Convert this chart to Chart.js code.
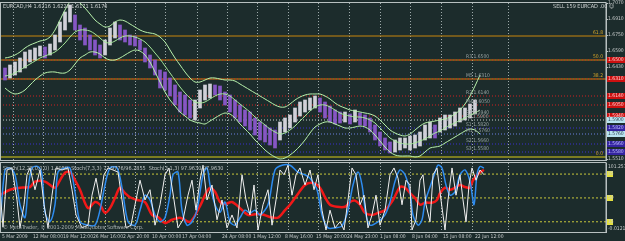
<!DOCTYPE html>
<html>
<head>
<meta charset="utf-8">
<script src="https://cdn.jsdelivr.net/npm/chart.js@4/dist/chart.umd.min.js"></script>
<style>
html, body { margin: 0; padding: 0; background: #1c2c2c; }
#wrap { position: relative; width: 625px; height: 241px; overflow: hidden; background: #1c2c2c; }
canvas { position: absolute; left: 0; }
#main { top: 0; width: 625px; height: 162px; }
#stoch { top: 162px; width: 625px; height: 79px; }
.txt { position: absolute; font: 5.5px "Liberation Sans Narrow", "DejaVu Sans Condensed", "Liberation Sans", sans-serif; color: #d0d4d4; white-space: nowrap; line-height: 6px; }
</style>
</head>
<body>
<div id="wrap">
  <canvas id="main" width="625" height="162"></canvas>
  <canvas id="stoch" width="625" height="79"></canvas>
  <div class="txt" style="left:3px;top:3px">EURCAD,H4 1.6216 1.6228 1.6171 1.6176</div>
  <div class="txt" style="left:553px;top:3px">SELL 159 EURCAD .00 &#9786;</div>
  <div class="txt" style="left:3px;top:165px;color:#c0c6c6">Stoch(12,25,0,0,0) 1.8059 &nbsp;Stoch(7,3,3) 77.9776/96.2855 &nbsp;Stoch(3,1,3) 97.9630/97.9630</div>
  <div class="txt" style="left:3px;top:224px;color:#a8b0b0">&copy; MetaTrader, &copy; 2001-2009 MetaQuotes Software Corp.</div>
</div>
<script>
// --- DATA ---

// price bars, one every 5 bars (bar index ~ pixel)
const highs = [1.642,1.645,1.648,1.652,1.658,1.660,1.662,1.664,1.663,1.666,
  1.675,1.688,1.698,1.705,1.695,1.685,1.682,1.675,1.670,1.665,
  1.670,1.682,1.688,1.685,1.680,1.675,1.674,1.670,1.662,1.655,
  1.650,1.640,1.638,1.632,1.625,1.618,1.615,1.610,1.610,1.620,
  1.625,1.626,1.625,1.624,1.618,1.615,1.610,1.605,1.600,1.598,
  1.592,1.588,1.585,1.582,1.580,1.588,1.592,1.595,1.602,1.608,
  1.610,1.612,1.614,1.612,1.608,1.604,1.600,1.598,1.598,1.596,
  1.600,1.597,1.595,1.592,1.585,1.578,1.572,1.568,1.570,1.572,
  1.572,1.574,1.575,1.578,1.585,1.588,1.585,1.592,1.595,1.595,
  1.598,1.602,1.602,1.606,1.610];
const lows = [1.630,1.632,1.635,1.638,1.642,1.648,1.650,1.654,1.652,1.655,
  1.660,1.668,1.680,1.688,1.680,1.670,1.665,1.660,1.655,1.652,
  1.655,1.665,1.672,1.670,1.668,1.665,1.664,1.660,1.648,1.642,
  1.635,1.622,1.620,1.614,1.605,1.598,1.595,1.592,1.590,1.602,
  1.610,1.612,1.615,1.610,1.605,1.598,1.592,1.588,1.584,1.580,
  1.575,1.570,1.568,1.565,1.562,1.570,1.578,1.582,1.588,1.594,
  1.598,1.600,1.602,1.598,1.592,1.588,1.586,1.587,1.588,1.586,
  1.588,1.585,1.584,1.578,1.570,1.564,1.560,1.557,1.558,1.560,
  1.562,1.560,1.562,1.564,1.570,1.572,1.572,1.578,1.580,1.582,
  1.584,1.588,1.590,1.592,1.596];

// bands, one every 5 bars
const upperBand = [1.652,1.653,1.655,1.658,1.662,1.665,1.667,1.669,1.670,1.673,
  1.680,1.690,1.700,1.708,1.710,1.707,1.702,1.696,1.690,1.686,
  1.683,1.684,1.688,1.690,1.689,1.686,1.683,1.680,1.678,1.677,
  1.676,1.673,1.668,1.660,1.652,1.645,1.638,1.632,1.628,1.628,
  1.630,1.632,1.632,1.631,1.630,1.630,1.629,1.626,1.623,1.620,
  1.617,1.614,1.611,1.608,1.605,1.603,1.603,1.606,1.610,1.613,
  1.615,1.616,1.616,1.616,1.614,1.611,1.607,1.604,1.602,1.600,
  1.599,1.598,1.597,1.596,1.594,1.590,1.585,1.580,1.577,1.575,
  1.574,1.576,1.580,1.584,1.587,1.588,1.589,1.590,1.591,1.593,
  1.596,1.600,1.606,1.614,1.624,1.635];
const midBand = [1.634,1.635,1.637,1.640,1.643,1.646,1.649,1.652,1.654,1.656,
  1.658,1.662,1.667,1.673,1.678,1.680,1.680,1.679,1.676,1.672,
  1.668,1.667,1.669,1.672,1.674,1.674,1.673,1.671,1.668,1.663,
  1.657,1.651,1.644,1.637,1.630,1.623,1.617,1.612,1.608,1.607,
  1.608,1.611,1.614,1.616,1.616,1.614,1.610,1.606,1.602,1.598,
  1.593,1.589,1.585,1.581,1.578,1.576,1.577,1.580,1.584,1.589,
  1.594,1.599,1.603,1.605,1.605,1.603,1.600,1.597,1.595,1.594,
  1.593,1.593,1.592,1.590,1.587,1.582,1.577,1.572,1.569,1.567,
  1.566,1.566,1.567,1.569,1.571,1.574,1.577,1.579,1.582,1.585,
  1.587,1.590,1.592,1.595,1.597,1.600];
const lowerBand = [1.622,1.618,1.616,1.617,1.620,1.625,1.630,1.634,1.637,1.638,
  1.638,1.637,1.637,1.640,1.646,1.652,1.655,1.658,1.658,1.656,
  1.652,1.650,1.650,1.652,1.655,1.658,1.660,1.659,1.655,1.648,
  1.638,1.628,1.618,1.610,1.604,1.598,1.594,1.590,1.588,1.587,
  1.586,1.589,1.592,1.595,1.597,1.596,1.592,1.586,1.581,1.576,
  1.570,1.565,1.560,1.556,1.553,1.551,1.552,1.555,1.559,1.564,
  1.570,1.577,1.583,1.586,1.588,1.588,1.586,1.584,1.582,1.582,
  1.583,1.584,1.583,1.580,1.575,1.569,1.563,1.558,1.555,1.554,
  1.554,1.554,1.553,1.554,1.558,1.562,1.563,1.564,1.567,1.570,
  1.573,1.576,1.579,1.581,1.580,1.576];

// fibonacci and pivot levels
const fibPrices = [1.674, 1.650, 1.631, 1.553];
const fibLabels = ['61.8', '50.0', '38.2', '0.0'];
const pivotPrices = [1.650, 1.631, 1.614, 1.605, 1.594, 1.590, 1.582, 1.576, 1.566, 1.558];
const pivotNames = ['R3', 'M5', 'R2', 'M4', 'R1', 'PP', 'S1', 'M1', 'S2', 'S3'];
const priceTicks = [1.707, 1.691, 1.675, 1.659, 1.643, 1.551];

// stochastics (bar index, value)
const fastX = [0,3,7,12,17,20,24,27,30,35,40,44,48,52,56,62,68,72,76,82,88,92,96,100,104,108,113,118,122,126,131,135,140,145,150,155,160,165,169,174,178,183,188,192,196,200,203,207,212,217,222,227,232,237,242,246,250,254,258,263,268,272,276,280,284,288,292,296,300,305,310,314,318,322,326,330,335,340,344,348,352,356,360,364,368,372,376,380,385,390,394,398,402,406,410,412,416,420,423,426,430,433,437,441,445,448,452,456,460,463,466,469,472,476,480,484];
const fastVals = [62,7,91,94,47,6,40,84,94,62,91,40,6,54,94,91,94,62,25,6,10,54,79,47,84,94,91,88,47,6,10,40,76,47,62,10,40,84,94,47,6,18,54,76,32,76,98,47,69,18,47,6,25,6,84,47,25,69,3,40,62,10,47,91,84,98,54,84,94,69,91,62,84,32,3,32,6,15,3,47,94,84,40,54,6,25,54,10,32,84,94,79,40,76,69,3,18,76,84,40,15,84,94,47,3,47,94,54,84,47,15,69,94,76,91,84];
const kX = [0,5,10,15,20,25,28,32,38,42,45,50,55,58,65,70,75,80,88,95,100,105,110,117,122,128,135,140,145,150,155,160,165,170,173,178,182,187,192,197,203,207,210,215,220,225,230,235,240,245,250,255,260,268,275,282,290,298,305,310,317,322,328,335,342,348,353,358,362,366,370,378,385,390,395,400,405,410,413,418,422,425,430,435,438,442,446,450,455,460,465,470,474,477,480,484];
const kVals = [10,91,94,84,40,21,62,94,96,84,29,15,40,88,94,94,59,15,10,10,32,69,94,94,65,15,10,32,54,47,25,15,21,54,84,88,32,10,15,32,84,94,69,40,29,44,15,10,21,32,28,32,25,40,91,98,98,88,84,79,62,25,6,6,9,32,69,88,69,25,10,15,25,44,74,91,84,59,25,10,18,44,66,87,98,94,69,54,59,84,91,74,40,84,96,94];
const dX = [0,10,20,30,35,45,55,60,65,70,75,80,88,95,100,105,110,115,120,125,130,137,145,152,158,165,172,180,190,200,205,210,215,220,225,232,240,248,255,262,270,278,285,290,297,305,313,320,325,330,337,345,350,355,360,365,372,378,385,393,400,405,410,415,420,425,432,437,440,445,450,455,460,465,470,473,480,484];
const dVals = [54,62,65,66,74,74,65,76,87,88,76,62,35,44,40,28,35,50,65,57,51,47,44,25,22,13,18,21,15,38,54,65,59,44,41,44,35,25,26,26,22,21,32,40,54,69,72,65,51,40,37,37,44,46,40,28,25,28,32,47,66,65,57,50,40,43,43,47,57,65,62,65,69,66,65,76,88,91];
const stochLevels = [85, 50, 15];
const stochMax = 101.257;
const stochMin = -0.0121;

// time axis
const gridX = [13,43,75,105,135,165,197,227,257,288,318,349,380,410,441,472,508];
const labelX = [2,33,63,93,123,152,182,222,253,285,316,347,380,412,443,475];
const xLabels = ['5 Mar 2009','12 Mar 08:00','19 Mar 12:00','26 Mar 16:00','2 Apr 20:00','10 Apr 00:00','17 Apr 04:00','24 Apr 08:00','1 May 12:00','8 May 16:00','15 May 20:00','24 May 23:00','1 Jun 08:00','8 Jun 04:00','15 Jun 08:00','22 Jun 12:00'];

// --- STYLE ---

const FONT = '"Liberation Sans Narrow","DejaVu Sans Condensed","Liberation Sans",sans-serif';
const AXIS_TXT = '#c8cccc';
const FRAME = '#b8c0c0';
const GRID = '#9eaaaa';
const X_MAX = 606;
const pivotStyle = [
  { line: '#d02020', box: '#cc1010', text: '#ffd0d0' },
  { line: '#d02020', box: '#cc1010', text: '#ffd0d0' },
  { line: '#d02020', box: '#cc1010', text: '#ffd0d0' },
  { line: '#d02020', box: '#cc1010', text: '#ffd0d0' },
  { line: '#d02020', box: '#cc1010', text: '#ffd0d0' },
  { line: '#c8d0d0', box: '#b8e4f0', text: '#304050' },
  { line: '#3a30d0', box: '#3424a0', text: '#c0c0ff' },
  { line: '#6a80e0', box: '#b8e4f0', text: '#304050' },
  { line: '#3a30d0', box: '#3424a0', text: '#c0c0ff' },
  { line: '#3a30d0', box: '#3424a0', text: '#c0c0ff' }
];

function hLine(v, color, dash, width, order) {
  return {
    type: 'line', data: [{ x: 0, y: v }, { x: X_MAX, y: v }],
    borderColor: color, borderDash: dash, borderWidth: width,
    pointRadius: 0, order: order
  };
}

const barX = highs.map((_, i) => 5 + i * 5);
const bandX = upperBand.map((_, i) => 5 + i * 5);
const pts = (xs, ys) => xs.map((x, i) => ({ x: x, y: ys[i] }));

// dotted vertical separators, placed through the x scale
const vGrid = {
  id: 'vGrid',
  beforeDatasetsDraw(chart) {
    const { ctx, chartArea: a, scales: { x } } = chart;
    ctx.save();
    ctx.strokeStyle = GRID;
    ctx.lineWidth = 1;
    ctx.setLineDash([1, 2]);
    gridX.forEach(v => {
      const px = Math.round(x.getPixelForValue(v)) + 0.5;
      ctx.beginPath();
      ctx.moveTo(px, a.top);
      ctx.lineTo(px, a.bottom);
      ctx.stroke();
    });
    ctx.restore();
  }
};

// --- MAIN PANEL ---

const mainDecor = {
  id: 'mainDecor',
  afterDraw(chart) {
    const { ctx, chartArea: a, scales: { x, y } } = chart;
    ctx.save();
    ctx.font = '5px ' + FONT;
    ctx.textBaseline = 'bottom';
    ctx.textAlign = 'left';
    ctx.fillStyle = '#97a2a2';
    pivotPrices.forEach((p, i) => {
      ctx.fillText(pivotNames[i] + ' ' + p.toFixed(4), x.getPixelForValue(466), y.getPixelForValue(p) - 0.5);
    });
    ctx.textAlign = 'right';
    ctx.fillStyle = '#d8a828';
    fibPrices.forEach((p, i) => {
      ctx.fillText(fibLabels[i], a.right - 3, y.getPixelForValue(p) - 0.5);
    });
    ctx.textAlign = 'left';
    ctx.textBaseline = 'middle';
    pivotPrices.forEach((p, i) => {
      const py = Math.round(y.getPixelForValue(p));
      ctx.fillStyle = pivotStyle[i].box;
      ctx.fillRect(a.right + 1, py - 3, 19, 6);
      ctx.fillStyle = pivotStyle[i].text;
      ctx.fillText(p.toFixed(4), a.right + 2, py);
    });
    ctx.strokeStyle = FRAME;
    ctx.lineWidth = 1;
    ctx.strokeRect(a.left + 0.5, a.top - 0.5, a.right - a.left - 0.5, a.bottom - a.top + 1);
    ctx.restore();
  }
};

const mainSets = [
  { type: 'line', data: pts(bandX, upperBand), borderColor: '#b8f2ac', borderWidth: 1, pointRadius: 0, tension: 0.3, order: 0 },
  { type: 'line', data: pts(bandX, midBand), borderColor: '#a6e89a', borderWidth: 1, pointRadius: 0, tension: 0.3, order: 0 },
  { type: 'line', data: pts(bandX, lowerBand), borderColor: '#b8f2ac', borderWidth: 1, pointRadius: 0, tension: 0.3, order: 0 },
  {
    type: 'bar', data: barX.map((x, i) => ({ x: x, y: [lows[i], highs[i]] })),
    backgroundColor: highs.map((h, i) => (i > 0 && h >= highs[i - 1]) ? '#d0d0d8' : '#8656c4'),
    barThickness: 3, grouped: false, order: 1
  }
];
fibPrices.forEach((p, i) => {
  if (fibLabels[i] === '0.0') mainSets.push(hLine(p, '#7c7c22', [], 2, 4));
  else mainSets.push(hLine(p, '#c8860c', [], 1, 4));
});
pivotPrices.forEach((p, i) => mainSets.push(hLine(p, pivotStyle[i].line, [1, 2], 1, 3)));

new Chart(document.getElementById('main'), {
  data: { datasets: mainSets },
  options: {
    responsive: false, animation: false, events: [],
    layout: { padding: { left: 0, top: 3, right: 0, bottom: 2 } },
    plugins: { legend: { display: false }, tooltip: { enabled: false } },
    scales: {
      x: {
        type: 'linear', min: 0, max: X_MAX, offset: false,
        afterFit: s => { s.height = 0; },
        ticks: { display: false },
        grid: { display: false, offset: false },
        border: { display: false }
      },
      y: {
        position: 'right', min: 1.550, max: 1.707,
        afterBuildTicks: s => { s.ticks = priceTicks.map(v => ({ value: v })); },
        afterFit: s => { s.width = 19; s.paddingTop = 0; s.paddingBottom = 0; },
        ticks: { color: AXIS_TXT, font: { family: FONT, size: 5 }, padding: 0, callback: v => v.toFixed(4) },
        grid: { drawOnChartArea: false, tickLength: 2, color: FRAME },
        border: { color: FRAME }
      }
    }
  },
  plugins: [vGrid, mainDecor]
});

// --- STOCHASTIC PANEL ---

const stochDecor = {
  id: 'stochDecor',
  afterDraw(chart) {
    const { ctx, chartArea: a, scales: { y } } = chart;
    ctx.save();
    ctx.font = '5px ' + FONT;
    ctx.textBaseline = 'middle';
    ctx.textAlign = 'left';
    stochLevels.forEach(v => {
      const py = Math.round(y.getPixelForValue(v));
      ctx.fillStyle = '#e4e040';
      ctx.fillRect(a.right + 1, py - 3, 6, 6);
      ctx.fillStyle = AXIS_TXT;
      ctx.fillText(String(v), a.right + 2, py);
    });
    ctx.fillStyle = AXIS_TXT;
    ctx.fillText(stochMax.toFixed(3), a.right + 2, y.getPixelForValue(stochMax) + 4);
    ctx.fillText(stochMin.toFixed(4), a.right + 2, y.getPixelForValue(stochMin) - 3);
    ctx.strokeStyle = FRAME;
    ctx.lineWidth = 1;
    ctx.strokeRect(a.left + 0.5, a.top - 0.5, a.right - a.left - 0.5, a.bottom - a.top + 1);
    ctx.restore();
  }
};

const stochSets = [
  { type: 'line', data: pts(fastX, fastVals), borderColor: '#f0f0f0', borderWidth: 1, pointRadius: 0, tension: 0, order: 0 },
  { type: 'line', data: pts(kX, kVals), borderColor: '#2e8cf0', borderWidth: 1.5, pointRadius: 0, tension: 0.3, order: 1 },
  { type: 'line', data: pts(dX, dVals), borderColor: '#f01818', borderWidth: 2.5, pointRadius: 0, tension: 0.3, order: 2 }
];
stochLevels.forEach(v => stochSets.push(hLine(v, '#c8c83c', [2, 2], 1, 3)));

new Chart(document.getElementById('stoch'), {
  data: { datasets: stochSets },
  options: {
    responsive: false, animation: false, events: [],
    layout: { padding: { left: 0, top: 1, right: 0, bottom: 0 } },
    plugins: { legend: { display: false }, tooltip: { enabled: false } },
    scales: {
      x: {
        type: 'linear', min: 0, max: X_MAX, position: 'bottom', offset: false,
        afterFit: s => { s.height = 0; },
        ticks: { display: false },
        grid: { display: false },
        border: { display: false }
      },
      xl: {
        type: 'linear', min: 0, max: X_MAX, position: 'bottom', offset: false,
        afterBuildTicks: s => { s.ticks = labelX.map(v => ({ value: v })); },
        afterFit: s => { s.height = 9; s.paddingLeft = 0; s.paddingRight = 0; },
        ticks: {
          color: AXIS_TXT, font: { family: FONT, size: 5 }, align: 'start', padding: 2,
          autoSkip: false, maxRotation: 0, minRotation: 0,
          callback: (v, i) => xLabels[i]
        },
        grid: { display: false, drawTicks: false },
        border: { display: false }
      },
      y: {
        position: 'right', min: stochMin, max: stochMax,
        afterFit: s => { s.width = 19; s.paddingTop = 0; s.paddingBottom = 0; },
        ticks: { display: false },
        grid: { display: false },
        border: { color: FRAME }
      }
    }
  },
  plugins: [vGrid, stochDecor]
});
</script>
</body>
</html>
